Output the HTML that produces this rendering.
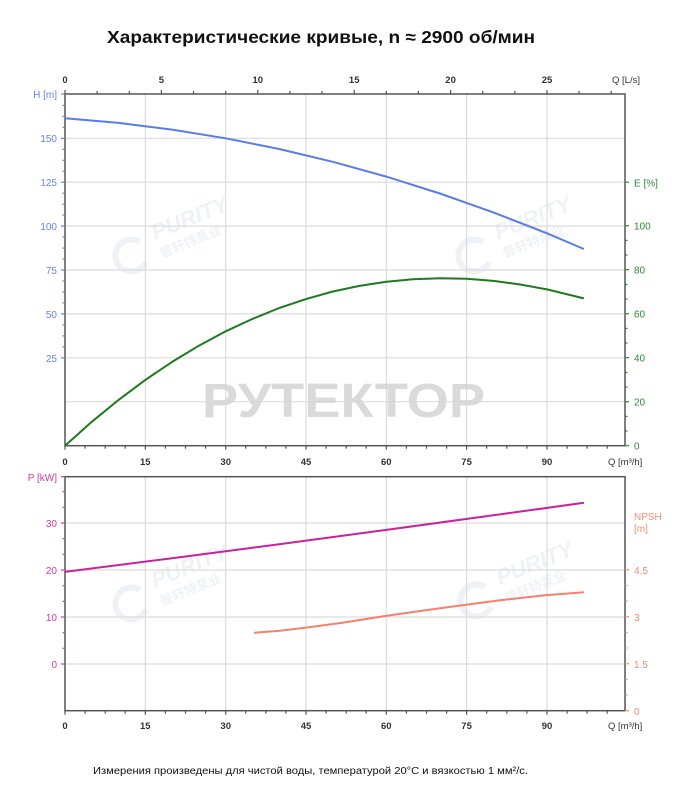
<!DOCTYPE html>
<html><head><meta charset="utf-8"><style>
html,body{margin:0;padding:0;background:#fff;}
svg{display:block;}
text{font-family:"Liberation Sans","Noto Sans CJK SC",sans-serif;}
</style></head><body>
<svg width="689" height="800" viewBox="0 0 689 800" xmlns="http://www.w3.org/2000/svg">
<rect width="689" height="800" fill="#fff"/>
<!-- Title -->
<text x="107" y="43" font-size="17.5" font-weight="bold" fill="#111" textLength="428" lengthAdjust="spacingAndGlyphs">Характеристические кривые, n ≈ 2900 об/мин</text>

<!-- watermarks PURITY -->
<g fill="#e9eef5" opacity="0.75">
 <g transform="translate(0,0)">
  <path d="M140,242 A16,16 0 1 0 146,262" fill="none" stroke="#e9eef5" stroke-width="6"/>
  <text x="155" y="240" font-size="22" font-weight="bold" font-style="italic" transform="rotate(-22 155 240)">PURITY</text>
  <text x="162" y="258" font-size="13" font-weight="bold" transform="rotate(-22 162 258)">普轩特泵业</text>
 </g>
 <g transform="translate(343,0)">
  <path d="M140,242 A16,16 0 1 0 146,262" fill="none" stroke="#e9eef5" stroke-width="6"/>
  <text x="155" y="240" font-size="22" font-weight="bold" font-style="italic" transform="rotate(-22 155 240)">PURITY</text>
  <text x="162" y="258" font-size="13" font-weight="bold" transform="rotate(-22 162 258)">普轩特泵业</text>
 </g>
 <g transform="translate(0,348)">
  <path d="M140,242 A16,16 0 1 0 146,262" fill="none" stroke="#e9eef5" stroke-width="6"/>
  <text x="155" y="240" font-size="22" font-weight="bold" font-style="italic" transform="rotate(-22 155 240)">PURITY</text>
  <text x="162" y="258" font-size="13" font-weight="bold" transform="rotate(-22 162 258)">普轩特泵业</text>
 </g>
 <g transform="translate(345,345)">
  <path d="M140,242 A16,16 0 1 0 146,262" fill="none" stroke="#e9eef5" stroke-width="6"/>
  <text x="155" y="240" font-size="22" font-weight="bold" font-style="italic" transform="rotate(-22 155 240)">PURITY</text>
  <text x="162" y="258" font-size="13" font-weight="bold" transform="rotate(-22 162 258)">普轩特泵业</text>
 </g>
</g>

<!-- ===== TOP CHART ===== -->
<g stroke="#dcdcdc" stroke-width="1.2">
 <line x1="65" y1="401.7" x2="625" y2="401.7"/>
 <line x1="65" y1="357.8" x2="625" y2="357.8"/>
 <line x1="65" y1="313.9" x2="625" y2="313.9"/>
 <line x1="65" y1="270" x2="625" y2="270"/>
 <line x1="65" y1="226.1" x2="625" y2="226.1"/>
 <line x1="65" y1="182.2" x2="625" y2="182.2"/>
 <line x1="65" y1="138.3" x2="625" y2="138.3"/>
 <line x1="145.3" y1="94" x2="145.3" y2="445.7"/>
 <line x1="225.7" y1="94" x2="225.7" y2="445.7"/>
 <line x1="306" y1="94" x2="306" y2="445.7"/>
 <line x1="386.3" y1="94" x2="386.3" y2="445.7"/>
 <line x1="466.6" y1="94" x2="466.6" y2="445.7"/>
 <line x1="547" y1="94" x2="547" y2="445.7"/>
</g>

<!-- watermark РУТЕКТОР -->
<text x="202" y="417" font-size="48" font-weight="bold" fill="#d6d6d6" opacity="0.9" textLength="283" lengthAdjust="spacingAndGlyphs">РУТЕКТОР</text>

<!-- top chart axes -->
<g stroke="#555" stroke-width="1.5" fill="none">
 <rect x="65" y="94" width="560" height="351.7"/>
</g>
<!-- H ticks (left) -->
<g stroke="#6a80e0" stroke-width="1.2">
 <line x1="61" y1="357.8" x2="65" y2="357.8"/><line x1="62.5" y1="346.8" x2="65" y2="346.8"/><line x1="62.5" y1="335.9" x2="65" y2="335.9"/><line x1="62.5" y1="324.9" x2="65" y2="324.9"/>
 <line x1="61" y1="313.9" x2="65" y2="313.9"/><line x1="62.5" y1="302.9" x2="65" y2="302.9"/><line x1="62.5" y1="292" x2="65" y2="292"/><line x1="62.5" y1="281" x2="65" y2="281"/>
 <line x1="61" y1="270" x2="65" y2="270"/><line x1="62.5" y1="259" x2="65" y2="259"/><line x1="62.5" y1="248.1" x2="65" y2="248.1"/><line x1="62.5" y1="237.1" x2="65" y2="237.1"/>
 <line x1="61" y1="226.1" x2="65" y2="226.1"/><line x1="62.5" y1="215.1" x2="65" y2="215.1"/><line x1="62.5" y1="204.2" x2="65" y2="204.2"/><line x1="62.5" y1="193.2" x2="65" y2="193.2"/>
 <line x1="61" y1="182.2" x2="65" y2="182.2"/><line x1="62.5" y1="171.2" x2="65" y2="171.2"/><line x1="62.5" y1="160.3" x2="65" y2="160.3"/><line x1="62.5" y1="149.3" x2="65" y2="149.3"/>
 <line x1="61" y1="138.3" x2="65" y2="138.3"/><line x1="62.5" y1="127.3" x2="65" y2="127.3"/><line x1="62.5" y1="116.4" x2="65" y2="116.4"/><line x1="62.5" y1="105.4" x2="65" y2="105.4"/>
 <line x1="61" y1="94" x2="65" y2="94"/>
</g>
<g font-size="10" fill="#6a80e6" text-anchor="end">
 <text x="57" y="98">H [m]</text>
 <text x="57" y="142">150</text>
 <text x="57" y="186">125</text>
 <text x="57" y="230">100</text>
 <text x="57" y="274">75</text>
 <text x="57" y="318">50</text>
 <text x="57" y="362">25</text>
</g>
<!-- E ticks (right) -->
<g stroke="#2f8a2f" stroke-width="1.2">
 <line x1="625" y1="445.7" x2="629" y2="445.7"/><line x1="625" y1="431" x2="627.5" y2="431"/><line x1="625" y1="416.4" x2="627.5" y2="416.4"/>
 <line x1="625" y1="401.7" x2="629" y2="401.7"/><line x1="625" y1="387" x2="627.5" y2="387"/><line x1="625" y1="372.4" x2="627.5" y2="372.4"/>
 <line x1="625" y1="357.7" x2="629" y2="357.7"/><line x1="625" y1="343" x2="627.5" y2="343"/><line x1="625" y1="328.4" x2="627.5" y2="328.4"/>
 <line x1="625" y1="313.7" x2="629" y2="313.7"/><line x1="625" y1="299" x2="627.5" y2="299"/><line x1="625" y1="284.4" x2="627.5" y2="284.4"/>
 <line x1="625" y1="269.7" x2="629" y2="269.7"/><line x1="625" y1="255" x2="627.5" y2="255"/><line x1="625" y1="240.4" x2="627.5" y2="240.4"/>
 <line x1="625" y1="225.7" x2="629" y2="225.7"/>
 <line x1="625" y1="182.2" x2="629" y2="182.2"/>
</g>
<g font-size="10" fill="#2f8a2f">
 <text x="634" y="186.5">E [%]</text>
 <text x="634" y="229.5">100</text>
 <text x="634" y="273.5">80</text>
 <text x="634" y="317.5">60</text>
 <text x="634" y="361.5">40</text>
 <text x="634" y="405.5">20</text>
 <text x="634" y="449.5">0</text>
</g>
<!-- top axis ticks (L/s) -->
<g stroke="#555" stroke-width="1.2">
 <line x1="65" y1="94" x2="65" y2="90"/><line x1="97.1" y1="94" x2="97.1" y2="91"/><line x1="129.3" y1="94" x2="129.3" y2="91"/>
 <line x1="161.4" y1="94" x2="161.4" y2="90"/><line x1="193.5" y1="94" x2="193.5" y2="91"/><line x1="225.7" y1="94" x2="225.7" y2="91"/>
 <line x1="257.8" y1="94" x2="257.8" y2="90"/><line x1="289.9" y1="94" x2="289.9" y2="91"/><line x1="322" y1="94" x2="322" y2="91"/>
 <line x1="354.2" y1="94" x2="354.2" y2="90"/><line x1="386.3" y1="94" x2="386.3" y2="91"/><line x1="418.4" y1="94" x2="418.4" y2="91"/>
 <line x1="450.6" y1="94" x2="450.6" y2="90"/><line x1="482.7" y1="94" x2="482.7" y2="91"/><line x1="514.8" y1="94" x2="514.8" y2="91"/>
 <line x1="547" y1="94" x2="547" y2="90"/><line x1="579.1" y1="94" x2="579.1" y2="91"/><line x1="611.2" y1="94" x2="611.2" y2="91"/>
</g>
<g font-size="9.5" font-weight="bold" fill="#333" text-anchor="middle">
 <text x="65" y="83">0</text>
 <text x="161.4" y="83">5</text>
 <text x="257.8" y="83">10</text>
 <text x="354.2" y="83">15</text>
 <text x="450.6" y="83">20</text>
 <text x="547" y="83">25</text>
</g>
<text x="612" y="83" font-size="9.5" fill="#333">Q [L/s]</text>
<!-- bottom axis ticks of top chart -->
<g stroke="#555" stroke-width="1.2" id="xt1">
 <line x1="65" y1="445.7" x2="65" y2="449.7"/><line x1="85.1" y1="445.7" x2="85.1" y2="448.7"/><line x1="105.2" y1="445.7" x2="105.2" y2="448.7"/><line x1="125.2" y1="445.7" x2="125.2" y2="448.7"/>
 <line x1="145.3" y1="445.7" x2="145.3" y2="449.7"/><line x1="165.4" y1="445.7" x2="165.4" y2="448.7"/><line x1="185.5" y1="445.7" x2="185.5" y2="448.7"/><line x1="205.6" y1="445.7" x2="205.6" y2="448.7"/>
 <line x1="225.7" y1="445.7" x2="225.7" y2="449.7"/><line x1="245.7" y1="445.7" x2="245.7" y2="448.7"/><line x1="265.8" y1="445.7" x2="265.8" y2="448.7"/><line x1="285.9" y1="445.7" x2="285.9" y2="448.7"/>
 <line x1="306" y1="445.7" x2="306" y2="449.7"/><line x1="326.1" y1="445.7" x2="326.1" y2="448.7"/><line x1="346.2" y1="445.7" x2="346.2" y2="448.7"/><line x1="366.2" y1="445.7" x2="366.2" y2="448.7"/>
 <line x1="386.3" y1="445.7" x2="386.3" y2="449.7"/><line x1="406.4" y1="445.7" x2="406.4" y2="448.7"/><line x1="426.5" y1="445.7" x2="426.5" y2="448.7"/><line x1="446.6" y1="445.7" x2="446.6" y2="448.7"/>
 <line x1="466.6" y1="445.7" x2="466.6" y2="449.7"/><line x1="486.7" y1="445.7" x2="486.7" y2="448.7"/><line x1="506.8" y1="445.7" x2="506.8" y2="448.7"/><line x1="526.9" y1="445.7" x2="526.9" y2="448.7"/>
 <line x1="547" y1="445.7" x2="547" y2="449.7"/><line x1="567.1" y1="445.7" x2="567.1" y2="448.7"/><line x1="587.1" y1="445.7" x2="587.1" y2="448.7"/><line x1="607.2" y1="445.7" x2="607.2" y2="448.7"/>
</g>
<g font-size="9.5" font-weight="bold" fill="#333" text-anchor="middle">
 <text x="65" y="465">0</text>
 <text x="145.3" y="465">15</text>
 <text x="225.7" y="465">30</text>
 <text x="306" y="465">45</text>
 <text x="386.3" y="465">60</text>
 <text x="466.6" y="465">75</text>
 <text x="547" y="465">90</text>
</g>
<text x="608" y="465" font-size="9.5" fill="#333">Q [m³/h]</text>

<!-- H curve -->
<path d="M65,118.3 L118.6,122.9 L172.1,129.6 L225.7,138.3 L279.2,149 L332.8,161.8 L386.3,176.6 L439.9,193.5 L493.4,212.4 L547,233.3 L583.9,249" fill="none" stroke="#5a7ce8" stroke-width="2" stroke-linejoin="round"/>
<!-- E curve -->
<path d="M65,445.7 L91.8,421.8 L118.6,399.9 L145.3,379.9 L172.1,361.9 L198.9,345.7 L225.7,331.3 L252.5,318.9 L279.2,308 L306,299.1 L332.8,291.5 L359.5,285.9 L386.3,281.7 L413.1,279.2 L439.9,278.3 L466.6,278.8 L493.4,280.9 L520.2,284.5 L547,289.4 L583.9,298.4" fill="none" stroke="#1e7a1e" stroke-width="2" stroke-linejoin="round"/>

<!-- ===== BOTTOM CHART ===== -->
<g stroke="#dcdcdc" stroke-width="1.2">
 <line x1="65" y1="664" x2="625" y2="664"/>
 <line x1="65" y1="617" x2="625" y2="617"/>
 <line x1="65" y1="570" x2="625" y2="570"/>
 <line x1="65" y1="523" x2="625" y2="523"/>
 <line x1="145.3" y1="476.7" x2="145.3" y2="710.7"/>
 <line x1="225.7" y1="476.7" x2="225.7" y2="710.7"/>
 <line x1="306" y1="476.7" x2="306" y2="710.7"/>
 <line x1="386.3" y1="476.7" x2="386.3" y2="710.7"/>
 <line x1="466.6" y1="476.7" x2="466.6" y2="710.7"/>
 <line x1="547" y1="476.7" x2="547" y2="710.7"/>
</g>
<rect x="65" y="476.7" width="560" height="234" fill="none" stroke="#555" stroke-width="1.5"/>
<!-- P ticks -->
<g stroke="#d4399c" stroke-width="1.2">
 <line x1="61" y1="664" x2="65" y2="664"/><line x1="62.5" y1="648.3" x2="65" y2="648.3"/><line x1="62.5" y1="632.7" x2="65" y2="632.7"/>
 <line x1="61" y1="617" x2="65" y2="617"/><line x1="62.5" y1="601.3" x2="65" y2="601.3"/><line x1="62.5" y1="585.7" x2="65" y2="585.7"/>
 <line x1="61" y1="570" x2="65" y2="570"/><line x1="62.5" y1="554.3" x2="65" y2="554.3"/><line x1="62.5" y1="538.7" x2="65" y2="538.7"/>
 <line x1="61" y1="523" x2="65" y2="523"/><line x1="62.5" y1="507.3" x2="65" y2="507.3"/><line x1="62.5" y1="491.7" x2="65" y2="491.7"/>
 <line x1="61" y1="476.7" x2="65" y2="476.7"/>
</g>
<g font-size="10" fill="#d4399c" text-anchor="end">
 <text x="57" y="481">P [kW]</text>
 <text x="57" y="527">30</text>
 <text x="57" y="574">20</text>
 <text x="57" y="621">10</text>
 <text x="57" y="668">0</text>
</g>
<!-- NPSH ticks -->
<g stroke="#f58a78" stroke-width="1.2">
 <line x1="625" y1="710.7" x2="629" y2="710.7"/><line x1="625" y1="695" x2="627.5" y2="695"/><line x1="625" y1="679.4" x2="627.5" y2="679.4"/>
 <line x1="625" y1="663.7" x2="629" y2="663.7"/><line x1="625" y1="648" x2="627.5" y2="648"/><line x1="625" y1="632.4" x2="627.5" y2="632.4"/>
 <line x1="625" y1="616.7" x2="629" y2="616.7"/><line x1="625" y1="601" x2="627.5" y2="601"/><line x1="625" y1="585.4" x2="627.5" y2="585.4"/>
 <line x1="625" y1="569.7" x2="629" y2="569.7"/>
</g>
<g font-size="10" fill="#f58a78">
 <text x="634" y="520">NPSH</text>
 <text x="634" y="532">[m]</text>
 <text x="634" y="574">4.5</text>
 <text x="634" y="621">3</text>
 <text x="634" y="668">1.5</text>
 <text x="634" y="715">0</text>
</g>
<!-- bottom x ticks -->
<use href="#xt1" transform="translate(0,265)"/>
<g font-size="9.5" font-weight="bold" fill="#333" text-anchor="middle">
 <text x="65" y="729">0</text>
 <text x="145.3" y="729">15</text>
 <text x="225.7" y="729">30</text>
 <text x="306" y="729">45</text>
 <text x="386.3" y="729">60</text>
 <text x="466.6" y="729">75</text>
 <text x="547" y="729">90</text>
</g>
<text x="608" y="729" font-size="9.5" fill="#333">Q [m³/h]</text>

<!-- P curve -->
<path d="M65,571.9 L172.1,558.2 L279.2,544.2 L386.3,529.9 L493.4,515.3 L583.9,502.8" fill="none" stroke="#c8239a" stroke-width="2" stroke-linejoin="round"/>
<!-- NPSH curve -->
<path d="M254,632.7 L280,630.8 L305,627.7 L345,622.4 L385,616 L440,608.3 L500,600.3 L545,595.2 L583.9,592.3" fill="none" stroke="#f7806c" stroke-width="2" stroke-linejoin="round"/>

<!-- footer -->
<text x="93" y="774" font-size="10" fill="#111" textLength="435" lengthAdjust="spacingAndGlyphs">Измерения произведены для чистой воды, температурой 20°C и вязкостью 1 мм²/с.</text>
</svg>
</body></html>
